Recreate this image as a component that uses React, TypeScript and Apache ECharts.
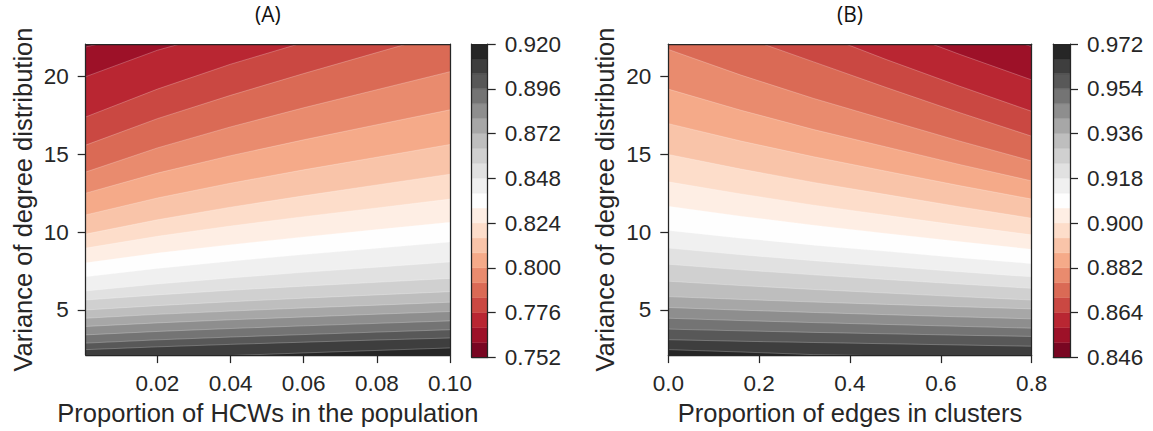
import React, { useEffect, useRef } from "react";
import * as echarts from "echarts";

// ---------- data ----------
// contour levels (colorbar boundaries)
const LEVELS_A = [0.752, 0.76, 0.768, 0.776, 0.784, 0.792, 0.8, 0.808, 0.816, 0.824, 0.832, 0.84, 0.848, 0.856, 0.864, 0.872, 0.88, 0.888, 0.896, 0.904, 0.912, 0.92];
const LEVELS_B = [0.846, 0.852, 0.858, 0.864, 0.87, 0.876, 0.882, 0.888, 0.894, 0.9, 0.906, 0.912, 0.918, 0.924, 0.93, 0.936, 0.942, 0.948, 0.954, 0.96, 0.966, 0.972];
const CB_TICKS_A = [0.752, 0.776, 0.8, 0.824, 0.848, 0.872, 0.896, 0.92];
const CB_TICKS_B = [0.846, 0.864, 0.882, 0.9, 0.918, 0.936, 0.954, 0.972];
const X_TICKS_A = [0.02, 0.04, 0.06, 0.08, 0.1];
const X_TICKS_B = [0, 0.2, 0.4, 0.6, 0.8];
const Y_TICKS = [5, 10, 15, 20];
const Y_RANGE = [2.1, 22.1];
const X_RANGE_A = [0.0004, 0.1];
const X_RANGE_B = [0, 0.8];
const PANEL_TITLES = ["(A)", "(B)"];

// x positions at which each contour line's height (variance) is read
const X_A = [0.0004, 0.02, 0.04, 0.06, 0.08, 0.1];
const X_B = [0, 0.16, 0.32, 0.48, 0.64, 0.8];

// contour lines, panel A (level k = 1..20), variance at X_A
const CONTOUR_A = [
  [21.91, 23.0, 24.0, 25.0, 26.0, 27.0],
  [20.0, 21.7, 23.0, 24.0, 25.1, 26.1],
  [17.41, 19.2, 20.8, 22.2, 23.5, 24.7],
  [15.6, 17.3, 18.8, 20.2, 21.55, 22.9],
  [13.87, 15.42, 16.77, 18.0, 19.16, 20.32],
  [12.51, 13.8, 14.92, 15.94, 16.91, 17.87],
  [11.11, 12.2, 13.15, 14.01, 14.82, 15.64],
  [9.88, 10.8, 11.61, 12.34, 13.04, 13.73],
  [8.98, 9.74, 10.4, 11.0, 11.56, 12.13],
  [8.03, 8.66, 9.2, 9.7, 10.17, 10.64],
  [7.13, 7.67, 8.14, 8.56, 8.97, 9.37],
  [6.22, 6.67, 7.06, 7.42, 7.75, 8.09],
  [5.64, 5.97, 6.27, 6.53, 6.78, 7.03],
  [5.0, 5.28, 5.53, 5.76, 5.97, 6.18],
  [4.47, 4.72, 4.93, 5.13, 5.31, 5.5],
  [3.94, 4.17, 4.37, 4.55, 4.73, 4.9],
  [3.4, 3.62, 3.81, 3.98, 4.14, 4.3],
  [2.87, 3.08, 3.26, 3.42, 3.58, 3.73],
  [2.45, 2.63, 2.79, 2.93, 3.07, 3.2],
  [1.85, 1.95, 2.07, 2.24, 2.4, 2.56],
];

// contour lines, panel B (level k = 1..20), variance at X_B
const CONTOUR_B = [
  [28.0, 26.9, 25.8, 24.8, 23.5, 21.93],
  [29.5, 27.2, 25.1, 23.2, 21.45, 19.79],
  [27.0, 24.9, 22.9, 21.1, 19.4, 17.77],
  [24.7, 22.6, 20.95, 19.3, 17.7, 16.17],
  [21.75, 20.1, 18.6, 17.23, 15.87, 14.58],
  [19.2, 17.84, 16.6, 15.48, 14.36, 13.3],
  [16.98, 15.86, 14.85, 13.92, 13.0, 12.13],
  [15.0, 14.06, 13.2, 12.42, 11.64, 10.9],
  [13.24, 12.46, 11.74, 11.09, 10.44, 9.83],
  [11.67, 11.03, 10.45, 9.92, 9.4, 8.9],
  [10.11, 9.62, 9.17, 8.77, 8.36, 7.98],
  [8.98, 8.55, 8.17, 7.81, 7.46, 7.13],
  [7.94, 7.58, 7.26, 6.96, 6.67, 6.39],
  [6.85, 6.57, 6.32, 6.09, 5.86, 5.64],
  [5.86, 5.68, 5.51, 5.36, 5.21, 5.07],
  [5.16, 4.99, 4.84, 4.7, 4.56, 4.43],
  [4.47, 4.32, 4.19, 4.07, 3.95, 3.83],
  [3.77, 3.66, 3.56, 3.47, 3.38, 3.3],
  [3.09, 2.99, 2.91, 2.83, 2.75, 2.67],
  [2.45, 2.3, 2.13, 2.05, 1.95, 1.85],
];

// RdGy colormap, 21 bands (low -> high)
const RDGY21 = ["#790622", "#9d1128", "#b92632", "#ca4842", "#da6a55", "#e98b6e", "#f5aa89", "#f9c4a9", "#fdddca", "#feeee4", "#fefefe", "#f0f0f0", "#e1e1e1", "#d0d0d0", "#bebebe", "#a7a7a7", "#8e8e8e", "#747474", "#585858", "#3e3e3e", "#262626"];

// ---------- styling ----------
const INK = "#262626";
const FONT = "'Liberation Sans', Arial, sans-serif";
const TICK_FS = 22.5;
const NAME_FS = 25.5;

const GRID_A = { left: 85.7, top: 44, width: 364.3, height: 313.3 };
const CB_A = { left: 471.7, top: 44, width: 16, height: 313.3 };
const GRID_B = { left: 668.3, top: 44, width: 363.4, height: 313.3 };
const CB_B = { left: 1053.3, top: 44, width: 16.7, height: 313.3 };

function lineOnlyAxis(gridIndex: number, position: string, min: number, max: number) {
  return {
    type: "value",
    gridIndex,
    position,
    min,
    max,
    z: 10,
    axisLine: { show: true, onZero: false, lineStyle: { color: INK, width: 1.25 } },
    axisTick: { show: false },
    axisLabel: { show: false },
    splitLine: { show: false },
  };
}

function tickAxis(gridIndex: number, position: string, min: number, max: number, ticks: number[], fmt: (v: number) => string, extra: any = {}) {
  return {
    type: "value",
    gridIndex,
    position,
    min,
    max,
    z: 10,
    axisLine: { show: true, onZero: false, lineStyle: { color: INK, width: 1.25 } },
    axisTick: { show: true, inside: false, length: 8, customValues: ticks, lineStyle: { color: INK, width: 1.25 } },
    axisLabel: { show: true, customValues: ticks, formatter: fmt, color: INK, fontSize: TICK_FS, fontFamily: FONT, margin: 17 },
    splitLine: { show: false },
    ...extra,
  };
}

function contourRenderer(xs: number[], lines: number[][], colors: string[], xr: number[], yr: number[]) {
  return (params: any, api: any) => {
    const children: any[] = [];
    const bl = api.coord([xr[0], yr[0]]);
    const tr = api.coord([xr[1], yr[1]]);
    children.push({
      type: "rect",
      shape: { x: bl[0], y: tr[1], width: tr[0] - bl[0], height: bl[1] - tr[1] },
      style: { fill: colors[0] },
    });
    const low = yr[0] - 30;
    lines.forEach((ln, i) => {
      const pts = xs.map((x, j) => api.coord([x, ln[j]]));
      const poly = pts.concat([api.coord([xs[xs.length - 1], low]), api.coord([xs[0], low])]);
      children.push({ type: "polygon", shape: { points: poly }, style: { fill: colors[i + 1] } });
    });
    lines.forEach((ln) => {
      const pts = xs.map((x, j) => api.coord([x, ln[j]]));
      children.push({ type: "polyline", shape: { points: pts }, style: { stroke: "rgba(255,255,255,0.35)", lineWidth: 0.7, fill: null } });
    });
    return { type: "group", children };
  };
}

function colorbarRenderer(levels: number[], colors: string[]) {
  return (params: any, api: any) => {
    const children = levels.slice(0, -1).map((lv, i) => {
      const p0 = api.coord([0, lv]);
      const p1 = api.coord([1, levels[i + 1]]);
      return {
        type: "rect",
        shape: { x: p0[0], y: p1[1], width: p1[0] - p0[0], height: p0[1] - p1[1] },
        style: { fill: colors[i], stroke: colors[i], lineWidth: 0.4 },
      };
    });
    return { type: "group", children };
  };
}

export default function App() {
  const ref = useRef<HTMLDivElement>(null);
  useEffect(() => {
    if (!ref.current) return;
    const chart = echarts.init(ref.current, null, { renderer: "svg" });
    const yName = {
      name: "Variance of degree distribution",
      nameLocation: "middle",
      nameGap: 50,
      nameTextStyle: { color: INK, fontSize: NAME_FS, fontFamily: FONT },
    };
    const titleStyle = { fontSize: 21, fontWeight: "normal", fontFamily: "'Open Sans', 'Noto Sans', sans-serif", color: "#111" };
    const option: any = {
      animation: false,
      backgroundColor: "#ffffff",
      textStyle: { fontFamily: FONT, color: INK },
      title: [
        { text: PANEL_TITLES[0], left: 255, top: 3, padding: 0, textStyle: titleStyle },
        { text: PANEL_TITLES[1], left: 837, top: 3, padding: 0, textStyle: titleStyle },
      ],
      grid: [
        { ...GRID_A, containLabel: false },
        { ...CB_A, containLabel: false },
        { ...GRID_B, containLabel: false },
        { ...CB_B, containLabel: false },
      ],
      xAxis: [
        tickAxis(0, "bottom", X_RANGE_A[0], X_RANGE_A[1], X_TICKS_A, (v: number) => v.toFixed(2), {
          name: "Proportion of HCWs in the population",
          nameLocation: "middle",
          nameGap: 42,
          nameTextStyle: { color: INK, fontSize: NAME_FS, fontFamily: FONT },
        }),
        lineOnlyAxis(0, "top", X_RANGE_A[0], X_RANGE_A[1]),
        lineOnlyAxis(1, "bottom", 0, 1),
        lineOnlyAxis(1, "top", 0, 1),
        tickAxis(2, "bottom", X_RANGE_B[0], X_RANGE_B[1], X_TICKS_B, (v: number) => v.toFixed(1), {
          name: "Proportion of edges in clusters",
          nameLocation: "middle",
          nameGap: 42,
          nameTextStyle: { color: INK, fontSize: NAME_FS, fontFamily: FONT },
        }),
        lineOnlyAxis(2, "top", X_RANGE_B[0], X_RANGE_B[1]),
        lineOnlyAxis(3, "bottom", 0, 1),
        lineOnlyAxis(3, "top", 0, 1),
      ],
      yAxis: [
        tickAxis(0, "left", Y_RANGE[0], Y_RANGE[1], Y_TICKS, (v: number) => String(v), yName),
        lineOnlyAxis(0, "right", Y_RANGE[0], Y_RANGE[1]),
        lineOnlyAxis(1, "left", LEVELS_A[0], LEVELS_A[LEVELS_A.length - 1]),
        tickAxis(1, "right", LEVELS_A[0], LEVELS_A[LEVELS_A.length - 1], CB_TICKS_A, (v: number) => v.toFixed(3)),
        tickAxis(2, "left", Y_RANGE[0], Y_RANGE[1], Y_TICKS, (v: number) => String(v), yName),
        lineOnlyAxis(2, "right", Y_RANGE[0], Y_RANGE[1]),
        lineOnlyAxis(3, "left", LEVELS_B[0], LEVELS_B[LEVELS_B.length - 1]),
        tickAxis(3, "right", LEVELS_B[0], LEVELS_B[LEVELS_B.length - 1], CB_TICKS_B, (v: number) => v.toFixed(3)),
      ],
      series: [
        {
          type: "custom",
          xAxisIndex: 0,
          yAxisIndex: 0,
          clip: true,
          z: 2,
          data: [[X_RANGE_A[0], Y_RANGE[0]]],
          renderItem: contourRenderer(X_A, CONTOUR_A, RDGY21, X_RANGE_A, Y_RANGE),
        },
        {
          type: "custom",
          xAxisIndex: 2,
          yAxisIndex: 3,
          clip: true,
          z: 2,
          data: [[0, LEVELS_A[0]]],
          renderItem: colorbarRenderer(LEVELS_A, RDGY21),
        },
        {
          type: "custom",
          xAxisIndex: 4,
          yAxisIndex: 4,
          clip: true,
          z: 2,
          data: [[X_RANGE_B[0], Y_RANGE[0]]],
          renderItem: contourRenderer(X_B, CONTOUR_B, RDGY21, X_RANGE_B, Y_RANGE),
        },
        {
          type: "custom",
          xAxisIndex: 6,
          yAxisIndex: 7,
          clip: true,
          z: 2,
          data: [[0, LEVELS_B[0]]],
          renderItem: colorbarRenderer(LEVELS_B, RDGY21),
        },
      ],
    };
    chart.setOption(option);
    return () => chart.dispose();
  }, []);
  return <div ref={ref} style={{ position: "absolute", left: 0, top: 0, width: 1153, height: 431, background: "#fff" }} />;
}
